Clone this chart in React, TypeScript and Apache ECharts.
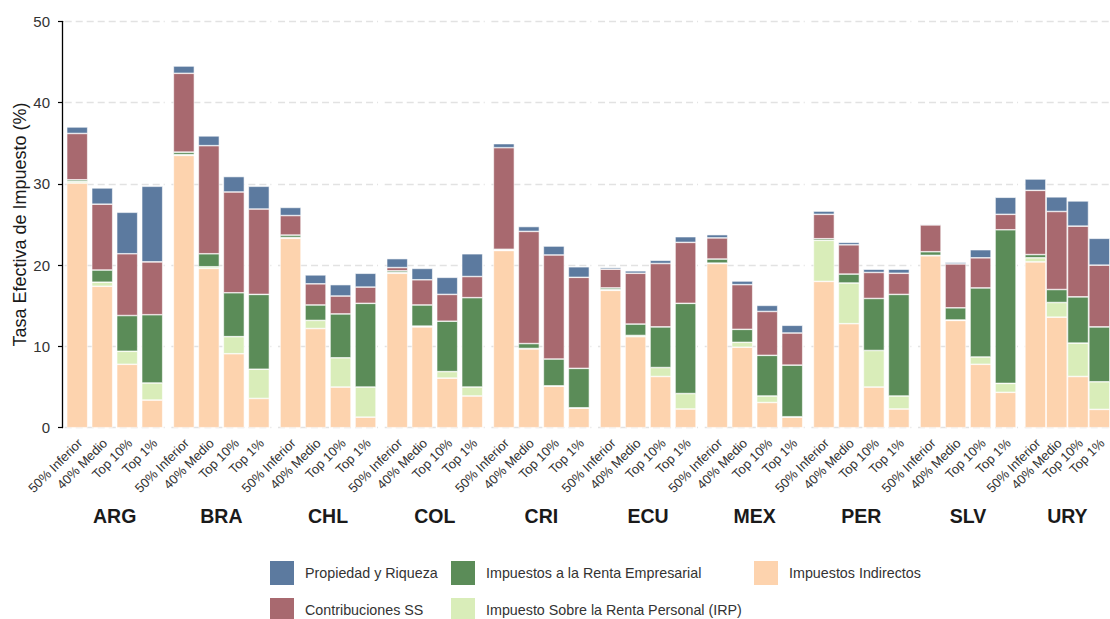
import React, { useEffect, useRef } from "react";
import * as echarts from "echarts";

const countries = ["ARG", "BRA", "CHL", "COL", "CRI", "ECU", "MEX", "PER", "SLV", "URY"];
const groups = ["50% Inferior", "40% Medio", "Top 10%", "Top 1%"];

// values per country: [50% Inferior, 40% Medio, Top 10%, Top 1%]
const indirectos = [
  [30.1, 17.4, 7.8, 3.4],
  [33.5, 19.6, 9.1, 3.6],
  [23.3, 12.2, 5.0, 1.3],
  [19.0, 12.4, 6.1, 3.9],
  [21.8, 9.7, 5.1, 2.4],
  [16.9, 11.2, 6.3, 2.3],
  [20.2, 9.9, 3.1, 1.3],
  [18.0, 12.8, 5.0, 2.3],
  [21.15, 13.2, 7.8, 4.35],
  [20.4, 13.6, 6.3, 2.25],
];
const irp = [
  [0.2, 0.5, 1.6, 2.1],
  [0.1, 0.2, 2.1, 3.6],
  [0.1, 1.0, 3.6, 3.7],
  [0.1, 0.1, 0.8, 1.1],
  [0.05, 0.05, 0.05, 0.05],
  [0.1, 0.15, 1.1, 1.9],
  [0.05, 0.6, 0.8, 0.05],
  [5.05, 5.0, 4.5, 1.6],
  [0.05, 0.05, 0.9, 1.1],
  [0.5, 1.8, 4.1, 3.4],
];
const empresarial = [
  [0.2, 1.5, 4.4, 8.4],
  [0.3, 1.6, 5.4, 9.2],
  [0.3, 1.9, 5.4, 10.3],
  [0.2, 2.6, 6.2, 11.0],
  [0.1, 0.6, 3.3, 4.85],
  [0.2, 1.4, 5.0, 11.1],
  [0.5, 1.6, 5.0, 6.35],
  [0.2, 1.1, 6.4, 12.5],
  [0.45, 1.5, 8.5, 18.9],
  [0.4, 1.6, 5.7, 6.75],
];
const contribucionesSS = [
  [5.7, 8.1, 7.6, 6.5],
  [9.7, 13.3, 12.4, 10.5],
  [2.4, 2.6, 2.2, 2.0],
  [0.4, 3.1, 3.3, 2.6],
  [12.5, 13.8, 12.8, 11.2],
  [2.3, 6.25, 7.8, 7.5],
  [2.6, 5.5, 5.4, 3.95],
  [3.0, 3.6, 3.2, 2.6],
  [3.3, 5.4, 3.7, 1.9],
  [7.9, 9.6, 8.7, 7.6],
];
const propiedad = [
  [0.8, 2.0, 5.1, 9.3],
  [0.9, 1.2, 1.9, 2.8],
  [1.0, 1.1, 1.4, 1.7],
  [1.1, 1.4, 2.1, 2.8],
  [0.5, 0.6, 1.1, 1.3],
  [0.2, 0.3, 0.4, 0.7],
  [0.4, 0.45, 0.75, 0.95],
  [0.4, 0.3, 0.4, 0.5],
  [0.1, 0.2, 1.0, 2.1],
  [1.4, 1.8, 3.1, 3.3],
];

const yTicks = [0, 10, 20, 30, 40, 50];

const components = [
  { name: "Impuestos Indirectos", data: indirectos, color: "#FDD3AE" },
  { name: "Impuesto Sobre la Renta Personal (IRP)", data: irp, color: "#D9EDB9" },
  { name: "Impuestos a la Renta Empresarial", data: empresarial, color: "#5B8C58" },
  { name: "Contribuciones SS", data: contribucionesSS, color: "#A8696F" },
  { name: "Propiedad y Riqueza", data: propiedad, color: "#5C7A9F" },
];

// legend layout: [name, column, row]
const legendLayout: [string, number, number][] = [
  ["Propiedad y Riqueza", 0, 0],
  ["Contribuciones SS", 0, 1],
  ["Impuestos a la Renta Empresarial", 1, 0],
  ["Impuesto Sobre la Renta Personal (IRP)", 1, 1],
  ["Impuestos Indirectos", 2, 0],
];

const FONT = "'Liberation Sans', Arial, Helvetica, sans-serif";

export default function App() {
  const ref = useRef<HTMLDivElement>(null);
  useEffect(() => {
    if (!ref.current) return;
    const chart = echarts.init(ref.current, undefined, { renderer: "svg" });
    const left0 = 64.7;
    const step = 106.67;
    const gw = 100;
    const top = 21.3;
    const height = 406.4;

    const grid: any[] = [];
    const xAxis: any[] = [];
    const yAxis: any[] = [];
    const series: any[] = [];

    countries.forEach((c, i) => {
      grid.push({ left: left0 + i * step, top, width: gw, height, containLabel: false });
      xAxis.push({
        type: "category",
        gridIndex: i,
        data: groups,
        axisLine: { show: false },
        axisTick: { show: false },
        axisLabel: {
          rotate: 45,
          interval: 0,
          fontSize: 13,
          color: "#333",
          margin: 16,
          padding: [0, -4, 0, 0],
          fontFamily: FONT,
        },
        name: c,
        nameLocation: "middle",
        nameGap: 78,
        nameTextStyle: { fontSize: 19.5, fontWeight: "bold", color: "#1a1a1a", fontFamily: FONT },
      });
      const first = i === 0;
      yAxis.push({
        type: "value",
        gridIndex: i,
        min: yTicks[0],
        max: yTicks[yTicks.length - 1],
        interval: 10,
        offset: first ? 2.7 : 0,
        axisLine: { show: first, lineStyle: { color: "#000", width: 1.3 } },
        axisTick: { show: first, length: 4, lineStyle: { color: "#000", width: 1.2 } },
        axisLabel: { show: first, fontSize: 15, color: "#333", margin: 12, fontFamily: FONT },
        splitLine: { show: true, lineStyle: { color: "#e2e2e2", width: 1.3, type: [7, 4] } },
        name: first ? "Tasa Efectiva de Impuesto (%)" : "",
        nameLocation: "middle",
        nameGap: 31.5,
        nameTextStyle: { fontSize: 18, color: "#1a1a1a", fontFamily: FONT },
      });
      components.forEach((comp) => {
        series.push({
          type: "bar",
          name: comp.name,
          xAxisIndex: i,
          yAxisIndex: i,
          stack: "s" + i,
          barWidth: 21,
          data: comp.data[i],
          itemStyle: { color: comp.color, borderColor: "#ffffff", borderWidth: 0.6 },
        });
      });
    });

    const colLeft = [268, 449, 752];
    const rowTop = [559, 596];
    const legend = legendLayout.map(([name, col, row]) => ({
      orient: "horizontal",
      left: colLeft[col],
      top: rowTop[row],
      itemWidth: 26,
      itemHeight: 26,
      padding: 0,
      icon: "rect",
      selectedMode: false,
      data: [name],
      textStyle: { fontSize: 14.3, color: "#333", fontFamily: FONT, padding: [0, 0, 0, 5] },
    }));

    chart.setOption({
      animation: false,
      backgroundColor: "#ffffff",
      textStyle: { fontFamily: FONT },
      grid,
      xAxis,
      yAxis,
      series,
      legend,
    });
    return () => chart.dispose();
  }, []);
  return (
    <div
      ref={ref}
      style={{ position: "fixed", left: 0, top: 0, width: 1110, height: 619, background: "#fff" }}
    />
  );
}
